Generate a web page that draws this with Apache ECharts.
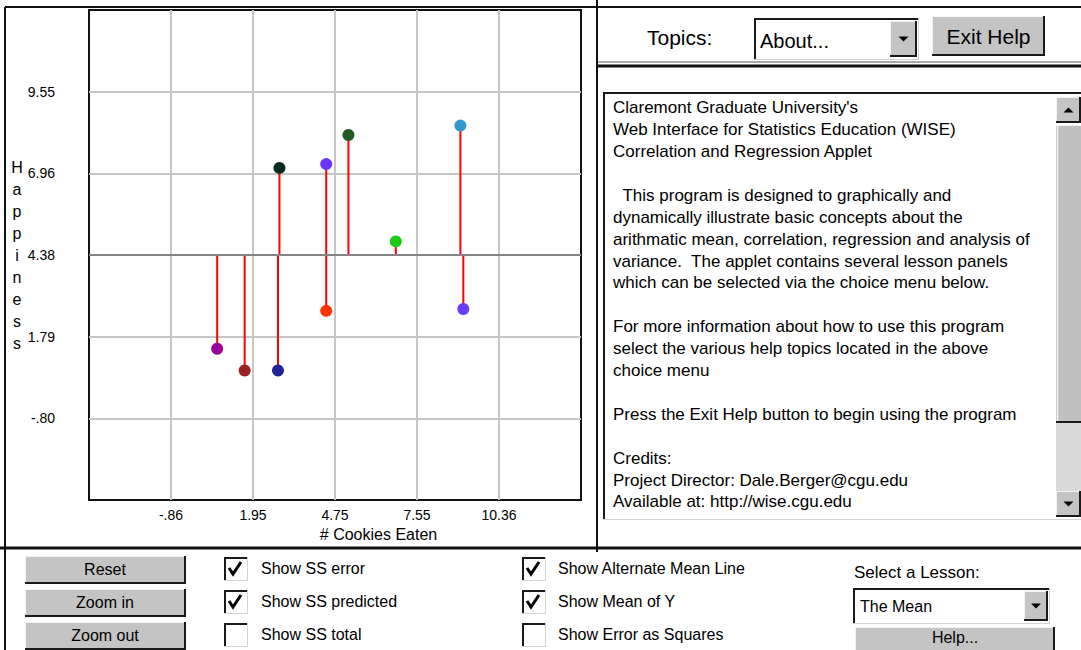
<!DOCTYPE html>
<html>
<head>
<meta charset="utf-8">
<script src="https://cdn.jsdelivr.net/npm/echarts@6/dist/echarts.min.js"></script>
<style>
html,body{margin:0;padding:0;background:#fff;}
#chart{width:1081px;height:650px;}
</style>
</head>
<body>
<div id="chart"></div>
<script>
// ---- data ----
const cookies   = [0.72, 1.66, 2.80, 2.85, 4.45, 4.45, 5.21, 6.83, 9.04, 9.14];
const happiness = [1.41, 0.72, 0.72, 7.14, 7.26, 2.61, 8.18, 4.81, 8.48, 2.67];
const pointColors = ['#990099', '#9a2222', '#22229a', '#062a1c', '#6a36ff', '#ff3300', '#245a24', '#16cc16', '#3399cc', '#6a3cff'];
const meanY = 4.38;
const xTickLabels = ['-.86', '1.95', '4.75', '7.55', '10.36'];
const yTickLabels = ['-.80', '1.79', '4.38', '6.96', '9.55'];
const xMin = -3.665, xMax = 13.165, xStep = 2.805;
const yMin = -3.3825, yMax = 12.1425, yStep = 2.5875;

const helpLines = [
  "Claremont Graduate University's",
  "Web Interface for Statistics Education (WISE)",
  "Correlation and Regression Applet",
  "",
  "\u00a0\u00a0This program is designed to graphically and",
  "dynamically illustrate basic concepts about the",
  "arithmatic mean, correlation, regression and analysis of",
  "variance.\u00a0 The applet contains several lesson panels",
  "which can be selected via the choice menu below.",
  "",
  "For more information about how to use this program",
  "select the various help topics located in the above",
  "choice menu",
  "",
  "Press the Exit Help button to begin using the program",
  "",
  "Credits:",
  "Project Director: Dale.Berger@cgu.edu",
  "Available at: http://wise.cgu.edu"
];
const buttonLabels = ['Reset', 'Zoom in', 'Zoom out'];
const checkCol1 = ['Show SS error', 'Show SS predicted', 'Show SS total'];
const checkCol1State = [true, true, false];
const checkCol2 = ['Show Alternate Mean Line', 'Show Mean of Y', 'Show Error as Squares'];
const checkCol2State = [true, true, false];

// ---- drawing helpers for the applet chrome ----
const FONT = '"Liberation Sans", Arial, sans-serif';
function ln(x1, y1, x2, y2, c, w) {
  return {type: 'line', silent: true, shape: {x1, y1, x2, y2}, style: {stroke: c, lineWidth: w}};
}
function rc(x, y, w, h, fill) {
  return {type: 'rect', silent: true, shape: {x, y, width: w, height: h}, style: {fill: fill}};
}
function tx(str, x, y, size, align) {
  const a = align || 'left';
  return {type: 'text', silent: true, style: {text: str, x, y, font: size + 'px ' + FONT, fill: '#000',
    textAlign: a, align: a, textVerticalAlign: 'middle', verticalAlign: 'middle'}};
}
function raised(x, y, w, h) {
  return [rc(x, y, w, h, '#c4c4c4'),
    ln(x, y + 0.5, x + w, y + 0.5, '#f4f4f4', 1),
    ln(x + 0.5, y, x + 0.5, y + h, '#f4f4f4', 1),
    ln(x, y + h - 1, x + w, y + h - 1, '#1a1a1a', 2),
    ln(x + w - 1, y, x + w - 1, y + h, '#1a1a1a', 2)];
}
function sunken(x, y, w, h, fill) {
  return [rc(x, y, w, h, fill || '#fff'),
    ln(x, y + 1, x + w, y + 1, '#1a1a1a', 2),
    ln(x + 1, y, x + 1, y + h, '#1a1a1a', 2),
    ln(x, y + h - 0.5, x + w, y + h - 0.5, '#d4d4d4', 1),
    ln(x + w - 0.5, y, x + w - 0.5, y + h, '#d4d4d4', 1)];
}
function tri(cx, cy, s, up) {
  const pts = up ? [[cx - s, cy + s / 2], [cx + s, cy + s / 2], [cx, cy - s / 2]]
                 : [[cx - s, cy - s / 2], [cx + s, cy - s / 2], [cx, cy + s / 2]];
  return {type: 'polygon', silent: true, shape: {points: pts}, style: {fill: '#000'}};
}
function checkbox(x, y, checked) {
  const els = sunken(x, y, 24, 24, '#fff');
  if (checked) {
    els.push({type: 'polyline', silent: true,
      shape: {points: [[x + 5, y + 11], [x + 9, y + 17], [x + 17, y + 5]]},
      style: {stroke: '#000', lineWidth: 3, fill: null}});
  }
  return els;
}

const g = [];
// frame lines
g.push(ln(5, 7, 5, 650, '#111', 2));
g.push(ln(5, 7, 1081, 7, '#111', 2));
g.push(ln(597, 0, 597, 552, '#111', 2));
g.push(ln(598, 62, 1081, 62, '#555', 1));
g.push(ln(598, 66, 1081, 66, '#111', 3));
g.push(ln(0, 548, 1081, 548, '#111', 3));

// right panel header
g.push(tx('Topics:', 647, 37, 21));
g.push(...sunken(754, 18, 165, 42, '#fff'));
g.push(tx('About...', 760, 41, 20));
g.push(...raised(890, 21, 27, 36));
g.push(tri(903.5, 39, 5, false));
g.push(...raised(932, 16, 113, 40));
g.push(tx('Exit Help', 988.5, 36, 21, 'center'));

// help text area
g.push(...sunken(603, 92, 480, 428, '#fff'));
helpLines.forEach((s, i) => { if (s) g.push(tx(s, 613, 107.7 + i * 21.9, 17)); });
// scrollbar
g.push(...raised(1056, 97, 25, 26));
g.push(tri(1068.5, 110, 5, true));
g.push(rc(1056, 125, 25, 298, '#c0c0c0'));
g.push(ln(1057.5, 125, 1057.5, 422, '#f4f4f4', 1.5));
g.push(ln(1056, 125.5, 1081, 125.5, '#f4f4f4', 1));
g.push(ln(1056, 422, 1081, 422, '#1a1a1a', 2));
g.push(rc(1056, 423, 25, 68, '#dadada'));
g.push(...raised(1056, 491, 25, 26));
g.push(tri(1068.5, 504, 5, false));

// bottom control bar
const rowsY = [556, 589, 622];
buttonLabels.forEach((s, i) => {
  g.push(...raised(25, rowsY[i], 161, 28));
  g.push(tx(s, 105, rowsY[i] + 13.5, 16, 'center'));
});
checkCol1.forEach((s, i) => {
  g.push(...checkbox(224, rowsY[i] + 1, checkCol1State[i]));
  g.push(tx(s, 261, rowsY[i] + 12.5, 16));
});
checkCol2.forEach((s, i) => {
  g.push(...checkbox(522, rowsY[i] + 1, checkCol2State[i]));
  g.push(tx(s, 558, rowsY[i] + 12.5, 16));
});
g.push(tx('Select a Lesson:', 854, 572, 17));
g.push(...sunken(853, 588, 197, 36, '#fff'));
g.push(tx('The Mean', 860, 606, 16));
g.push(...raised(1024, 591, 24, 30));
g.push(tri(1036, 606, 5, false));
g.push(...raised(855, 627, 200, 27));
g.push(tx('Help...', 955, 637, 16, 'center'));

// ---- chart ----
const points = cookies.map((x, i) => ({value: [x, happiness[i]], itemStyle: {color: pointColors[i], opacity: 1}}));

function labelFor(list, min, step) {
  return function (v) {
    const k = Math.round((v - min) / step);
    return (k >= 1 && k <= list.length) ? list[k - 1] : '';
  };
}

const chart = echarts.init(document.getElementById('chart'), null, {renderer: 'svg', width: 1081, height: 650});
chart.setOption({
  animation: false,
  backgroundColor: '#fff',
  grid: {left: 89, top: 10, width: 492, height: 490, show: true, borderColor: '#111', borderWidth: 2,
         backgroundColor: '#fff', containLabel: false, outerBoundsMode: 'none'},
  xAxis: {
    type: 'value', min: xMin, max: xMax, interval: xStep,
    axisLine: {show: false}, axisTick: {show: false},
    splitLine: {show: true, showMinLine: false, showMaxLine: false, lineStyle: {color: '#c6c6c6', width: 2}},
    axisLabel: {formatter: labelFor(xTickLabels, xMin, xStep), color: '#000', fontSize: 14, fontFamily: FONT,
                margin: 8, showMinLabel: false, showMaxLabel: false},
    name: '# Cookies Eaten', nameLocation: 'middle', nameGap: 33,
    nameTextStyle: {color: '#000', fontSize: 16, fontFamily: FONT, verticalAlign: 'middle', padding: [0, 0, 0, 87]}
  },
  yAxis: {
    type: 'value', min: yMin, max: yMax, interval: yStep,
    axisLine: {show: false}, axisTick: {show: false},
    splitLine: {show: true, showMinLine: false, showMaxLine: false, lineStyle: {color: '#c6c6c6', width: 2}},
    axisLabel: {formatter: labelFor(yTickLabels, yMin, yStep), color: '#000', fontSize: 14, fontFamily: FONT,
                margin: 34, showMinLabel: false, showMaxLabel: false},
    name: 'H\na\np\np\ni\nn\ne\ns\ns', nameLocation: 'middle', nameRotate: 0, nameGap: 72,
    nameTextStyle: {color: '#000', fontSize: 16, fontFamily: FONT, lineHeight: 22, align: 'center',
                    verticalAlign: 'middle', padding: [12, 0, 0, 0]}
  },
  series: [
    {
      type: 'scatter', data: [], z: 2, silent: true,
      markLine: {silent: true, symbol: ['none', 'none'], label: {show: false}, animation: false,
                 lineStyle: {color: '#858585', width: 2, type: 'solid'}, emphasis: {disabled: true},
                 data: [{yAxis: meanY}]}
    },
    {
      type: 'custom', z: 3, silent: true,
      data: points.map(p => p.value),
      renderItem: function (params, api) {
        const x = api.value(0), y = api.value(1);
        const a = api.coord([x, meanY]);
        const b = api.coord([x, y]);
        return {type: 'group', children: [
          {type: 'line', shape: {x1: a[0], y1: a[1], x2: b[0], y2: b[1]}, style: {stroke: '#ff0000', lineWidth: 2}},
          {type: 'rect', shape: {x: a[0] - 1.5, y: a[1] - 1, width: 3, height: 2}, style: {fill: '#3030ff'}}
        ]};
      }
    },
    {
      type: 'scatter', z: 4, symbol: 'circle', symbolSize: 12, data: points,
      itemStyle: {opacity: 1}, emphasis: {disabled: true}
    }
  ],
  graphic: {elements: g}
});
</script>
</body>
</html>
